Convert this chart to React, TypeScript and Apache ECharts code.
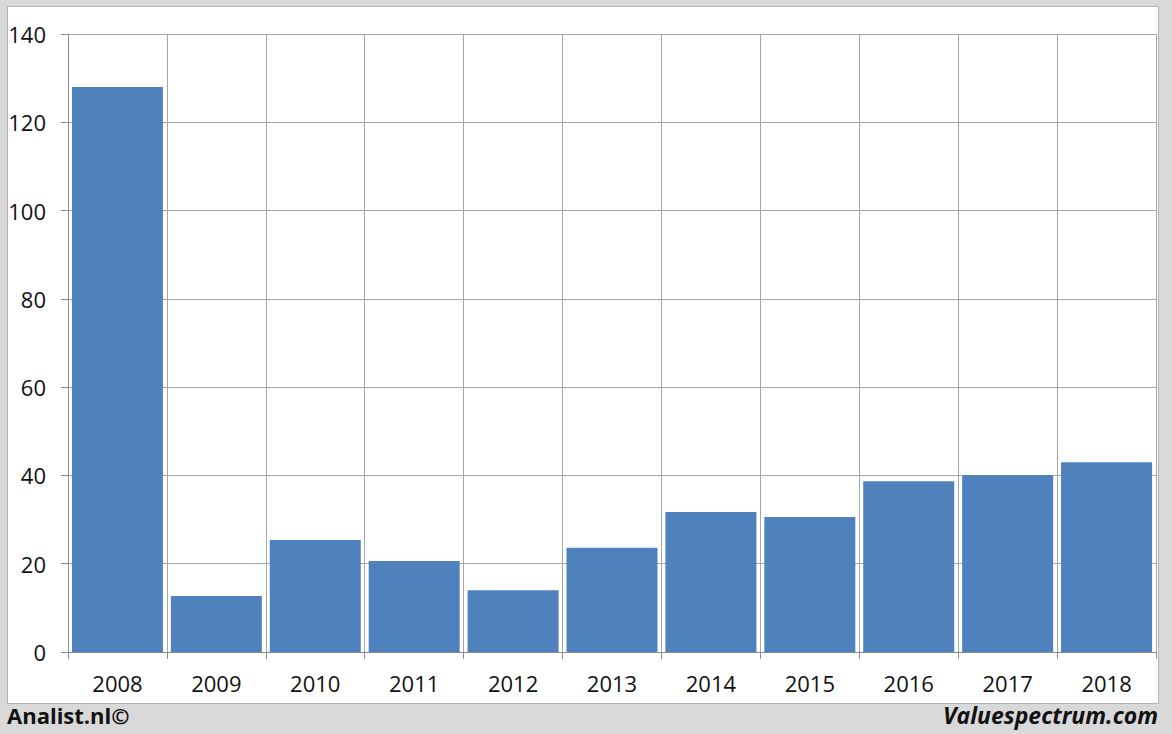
import React, { useEffect, useRef } from "react";
import * as echarts from "echarts";

const years = ["2008", "2009", "2010", "2011", "2012", "2013", "2014", "2015", "2016", "2017", "2018"];
const values = [128.0, 12.7, 25.4, 20.6, 14.0, 23.6, 31.7, 30.6, 38.7, 40.1, 43.0];
const yTicks = [0, 20, 40, 60, 80, 100, 120, 140];

const FONT = "'Open Sans', 'Liberation Sans', sans-serif";

export default function App() {
  const ref = useRef<HTMLDivElement>(null);
  useEffect(() => {
    document.body.style.margin = "0";
    const chart = echarts.init(ref.current!, null, { renderer: "svg" });
    chart.setOption({
      animation: false,
      backgroundColor: "#d9d9d9",
      graphic: [
        {
          type: "rect",
          z: -10,
          shape: { x: 7.5, y: 6.5, width: 1151, height: 697 },
          style: { fill: "#ffffff", stroke: "#b3b3b3", lineWidth: 1 },
          silent: true,
        },
        {
          type: "text",
          left: 7,
          top: 704,
          style: { text: "Analist.nl©", font: `bold 22px ${FONT}`, fill: "#111" },
        },
        {
          type: "text",
          right: 14,
          top: 703,
          style: { text: "Valuespectrum.com", font: `italic bold 23px ${FONT}`, fill: "#111" },
        },
      ],
      grid: { left: 68, right: 16, top: 34, bottom: 82 },
      xAxis: {
        type: "category",
        data: years,
        axisLine: { show: true, lineStyle: { color: "#8c8c8c", width: 1 } },
        axisTick: { show: true, length: 7, lineStyle: { color: "#8c8c8c" } },
        splitLine: { show: true, lineStyle: { color: "#a6a6a6", width: 1 } },
        axisLabel: { color: "#111", fontSize: 22, fontFamily: FONT, margin: 20 },
      },
      yAxis: {
        type: "value",
        min: 0,
        max: 140,
        interval: 20,
        axisLine: { show: true, lineStyle: { color: "#8c8c8c", width: 1 } },
        axisTick: { show: true, length: 7, lineStyle: { color: "#8c8c8c" } },
        splitLine: { show: true, lineStyle: { color: "#a6a6a6", width: 1 } },
        axisLabel: {
          color: "#111",
          fontSize: 22,
          fontFamily: FONT,
          margin: 22,
          formatter: (v: number) => (yTicks.includes(v) ? String(v) : ""),
        },
      },
      series: [
        {
          type: "bar",
          data: values,
          barCategoryGap: "8%",
          itemStyle: { color: "#4f81bd" },
        },
      ],
    });
    return () => chart.dispose();
  }, []);
  return <div ref={ref} style={{ width: 1172, height: 734 }} />;
}
